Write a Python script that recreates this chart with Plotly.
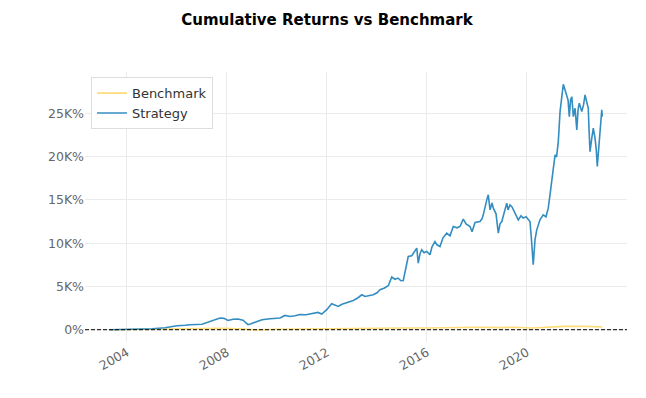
import pandas as pd
import plotly.graph_objects as go

# ---- data (decimal years, cumulative return in %) ----
strategy_years = [
    2003.3, 2003.6, 2004.0, 2004.52, 2005.0, 2005.52, 2006.0, 2006.32, 2006.52, 2007.0,
    2007.32, 2007.52, 2007.72, 2007.88, 2008.04, 2008.24, 2008.44, 2008.64, 2008.79, 2008.84,
    2008.96, 2009.19, 2009.4, 2009.72, 2009.92, 2010.12, 2010.32, 2010.52, 2010.72, 2010.92,
    2011.16, 2011.44, 2011.64, 2011.79, 2011.99, 2012.19, 2012.39, 2012.45, 2012.6, 2012.79,
    2013.05, 2013.24, 2013.39, 2013.52, 2013.72, 2013.85, 2014.0, 2014.12, 2014.28, 2014.45,
    2014.59, 2014.72, 2014.84, 2014.96, 2015.05, 2015.16, 2015.25, 2015.39, 2015.48, 2015.59,
    2015.65, 2015.72, 2015.79, 2015.88, 2015.99, 2016.12, 2016.2, 2016.32, 2016.4, 2016.52,
    2016.64, 2016.79, 2016.92, 2017.05, 2017.2, 2017.32, 2017.45, 2017.56, 2017.72, 2017.8,
    2017.92, 2018.12, 2018.2, 2018.25, 2018.39, 2018.45, 2018.52, 2018.6, 2018.65, 2018.76,
    2018.85, 2018.92, 2018.99, 2019.08, 2019.19, 2019.24, 2019.32, 2019.4, 2019.52, 2019.65,
    2019.76, 2019.85, 2019.96, 2020.12, 2020.18, 2020.25, 2020.32, 2020.39, 2020.52, 2020.65,
    2020.76, 2020.85, 2020.92, 2020.99, 2021.04, 2021.12, 2021.18, 2021.25, 2021.32, 2021.38,
    2021.45, 2021.52, 2021.59, 2021.64, 2021.69, 2021.74, 2021.79, 2021.85, 2021.92, 2021.99,
    2022.04, 2022.09, 2022.19, 2022.26, 2022.32, 2022.38, 2022.45, 2022.48, 2022.52, 2022.58,
    2022.65, 2022.72, 2022.77, 2022.81, 2022.86, 2022.92, 2022.96, 2022.99, 2023.01,
]
strategy_values = [
    0, 10, 20, 50, 115, 230, 460, 520, 580, 635,
    920, 1150, 1350, 1310, 1070, 1210, 1235, 1100, 775, 580,
    690, 960, 1155, 1270, 1330, 1350, 1650, 1535, 1615, 1765,
    1730, 1850, 2000, 1815, 2310, 3000, 2690, 2690, 2945, 3150,
    3380, 3695, 4040, 3845, 3925, 4040, 4270, 4620, 4790, 5080,
    6085, 5830, 5970, 5660, 5690, 7160, 8465, 8545, 9005, 9435,
    7700, 8775, 9240, 8890, 9040, 8660, 9585, 10195, 9815, 9620,
    10625, 11165, 10855, 11930, 11780, 11930, 12780, 12240, 11930, 11315,
    12390, 12505, 12820, 13280, 15010, 15590, 13855, 14665, 14050, 13395,
    11165, 12240, 12505, 13625, 14630, 13855, 14435, 14200, 13475, 12700,
    13165, 12900, 13050, 12505, 10390, 7505, 10390, 11545, 12700, 13280,
    13050, 14050, 15590, 17125, 18475, 20210, 19975, 21745, 25210, 26560,
    28370, 27715, 27135, 26560, 24630, 26560, 26940, 24630, 25600, 23095,
    25405, 26175, 25210, 25980, 27135, 26560, 25600, 23095, 20590, 21940,
    23290, 22135, 20785, 18860, 20785, 23670, 24825, 25405, 24630,
]

benchmark_years = [
    2003.3, 2004.0, 2005.0, 2006.0, 2007.0, 2007.8, 2008.5, 2009.2, 2010.0, 2011.3,
    2011.8, 2013.0, 2014.0, 2015.0, 2016.0, 2017.0, 2018.0, 2018.95, 2019.5, 2020.2,
    2020.6, 2021.0, 2021.5, 2022.0, 2022.5, 2023.01,
]
benchmark_values = [
    0, 30, 50, 80, 120, 160, 100, -20, 60, 110,
    70, 120, 170, 200, 190, 230, 290, 240, 290, 200,
    280, 330, 390, 400, 330, 330,
]

y_tick_values = [0, 5000, 10000, 15000, 20000, 25000]
y_tick_labels = ["0%", "5K%", "10K%", "15K%", "20K%", "25K%"]
x_tick_years = [2004, 2008, 2012, 2016, 2020]


def to_date(y):
    yr = int(y)
    return pd.Timestamp(yr, 1, 1) + pd.Timedelta(days=(y - yr) * 365.25)


s_dates = [to_date(v) for v in strategy_years]
b_dates = [to_date(v) for v in benchmark_years]

fig = go.Figure()
fig.add_trace(go.Scatter(x=b_dates, y=benchmark_values, mode="lines", name="Benchmark",
                         line=dict(color="#fedd78", width=1.6)))
fig.add_trace(go.Scatter(x=s_dates, y=strategy_values, mode="lines", name="Strategy",
                         line=dict(color="#348dc1", width=1.6)))

fig.add_shape(type="line", xref="paper", x0=0, x1=1, yref="y", y0=0, y1=0,
              line=dict(color="black", width=1, dash="4px,2px"), layer="above")

# page body has an 8px default margin, so the figure is 8px smaller
fig.update_layout(
    width=638, height=390,
    margin=dict(l=77, r=19, t=64, b=56),
    paper_bgcolor="white", plot_bgcolor="white",
    font=dict(family="DejaVu Sans", size=12.5, color="#666666"),
    title=dict(text="<b>Cumulative Returns vs Benchmark</b>", x=0.5, xanchor="center",
               y=0.97, yanchor="middle", font=dict(size=15, color="black")),
    legend=dict(x=0.011, y=0.981, xanchor="left", yanchor="top",
                bgcolor="white", bordercolor="#dddddd", borderwidth=1,
                font=dict(size=13, color="#333333"), itemwidth=30,
                tracegroupgap=0),
    showlegend=True,
)
fig.update_xaxes(
    type="date",
    range=[to_date(2002.32), to_date(2024.0)],
    tickvals=[pd.Timestamp(y, 1, 1) for y in x_tick_years],
    ticktext=[str(y) for y in x_tick_years],
    tickangle=-30,
    showgrid=True, gridcolor="#ebebeb", gridwidth=1,
    zeroline=False, showline=False, ticks="",
)
fig.update_yaxes(
    range=[-1420, 29790],
    tickvals=y_tick_values, ticktext=y_tick_labels,
    showgrid=True, gridcolor="#ebebeb", gridwidth=1,
    zeroline=False, showline=False, ticks="", ticklen=0,
)

fig.write_html("out.html")
